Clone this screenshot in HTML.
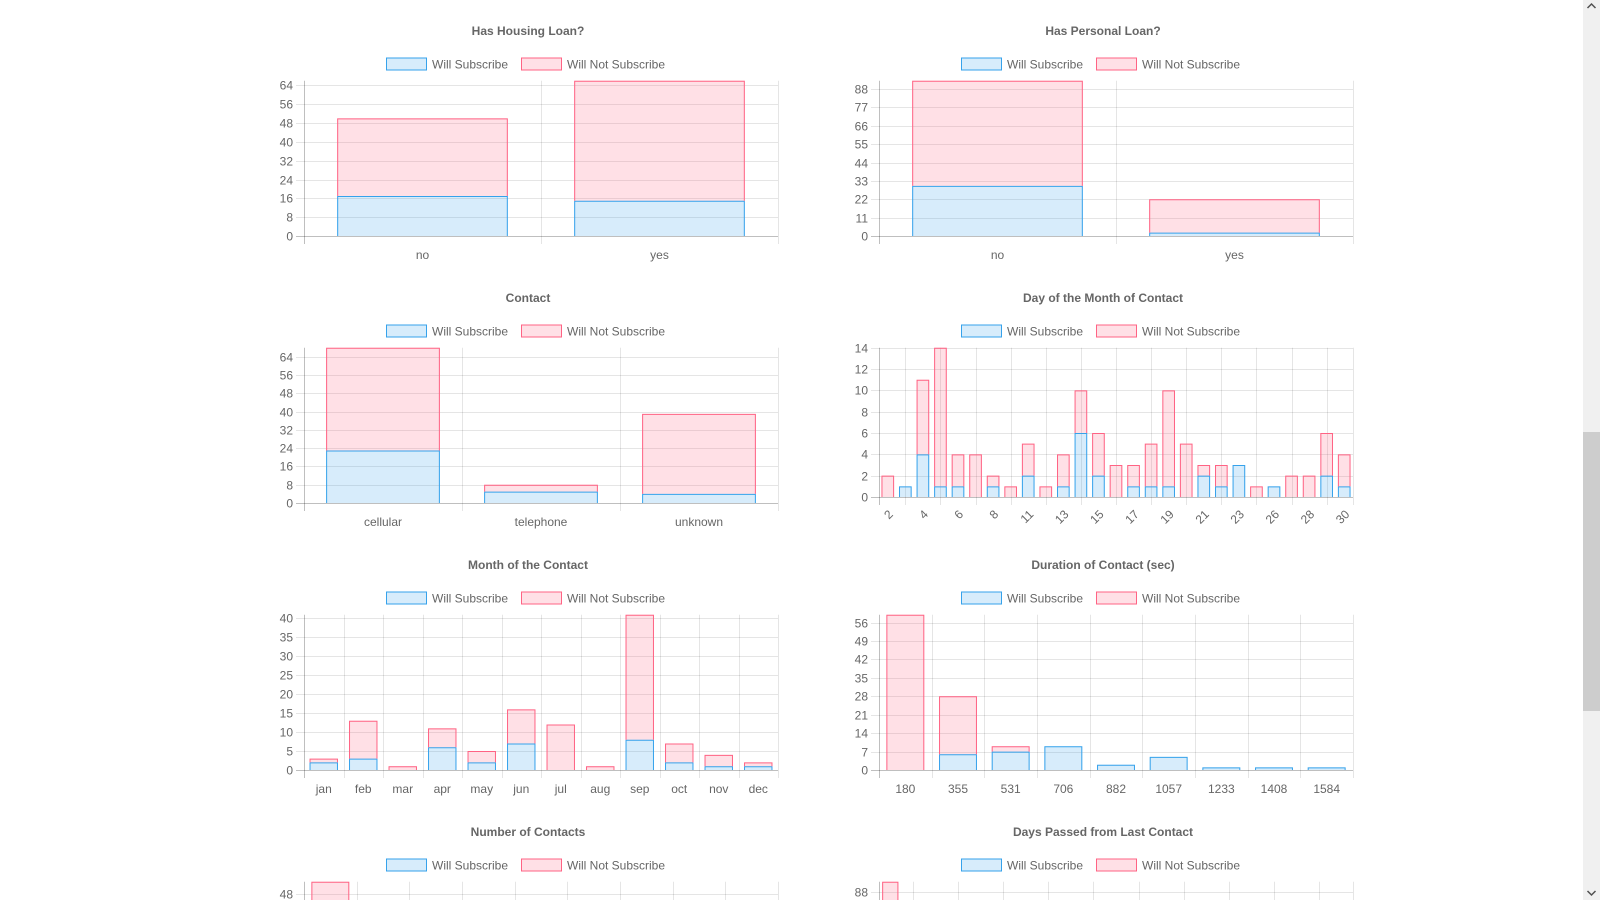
<!DOCTYPE html>
<html><head><meta charset="utf-8"><title>Bank marketing charts</title>
<style>
html,body{margin:0;padding:0;width:1600px;height:900px;overflow:hidden;background:#fff;}
svg{display:block;font-family:"Liberation Sans",Arial,sans-serif;overflow:hidden;}
</style></head>
<body>
<svg id="svgroot" width="1600" height="900" viewBox="0 0 1600 900" xmlns="http://www.w3.org/2000/svg">
  <defs><clipPath id="clipview"><rect x="0" y="0" width="1600" height="900"/></clipPath></defs>
  <g id="root" clip-path="url(#clipview)"></g>
  <g>
    <rect x="1583" y="0" width="17" height="900" fill="#f0f0f0"/>
    <rect x="1583" y="432" width="17" height="279" fill="#cdcdcd"/>
    <path d="M1587.5 8 L1591.5 4 L1595.5 8" fill="none" stroke="#505050" stroke-width="1.5"/>
    <path d="M1587.5 891 L1591.5 895 L1595.5 891" fill="none" stroke="#505050" stroke-width="1.5"/>
  </g>
</svg>
<script>
// ---- data ----
const housingCats = ["no","yes"];
const housingSub = [17,15];
const housingNot = [33,51];
const housingTicks = [0,8,16,24,32,40,48,56,64];

const personalCats = ["no","yes"];
const personalSub = [30,2];
const personalNot = [63,20];
const personalTicks = [0,11,22,33,44,55,66,77,88];

const contactCats = ["cellular","telephone","unknown"];
const contactSub = [23,5,4];
const contactNot = [45,3,35];
const contactTicks = [0,8,16,24,32,40,48,56,64];

const dayCats = [2,3,4,5,6,7,8,9,11,12,13,14,15,16,17,18,19,20,21,22,23,24,26,27,28,29,30];
const daySub = [0,1,4,1,1,0,1,0,2,0,1,6,2,0,1,1,1,0,2,1,3,0,1,0,0,2,1];
const dayNot = [2,0,7,13,3,4,1,1,3,1,3,4,4,3,2,4,9,5,1,2,0,1,0,2,2,4,3];
const dayTicks = [0,2,4,6,8,10,12,14];

const monthCats = ["jan","feb","mar","apr","may","jun","jul","aug","sep","oct","nov","dec"];
const monthSub = [2,3,0,6,2,7,0,0,8,2,1,1];
const monthNot = [1,10,1,5,3,9,12,1,33,5,3,1];
const monthTicks = [0,5,10,15,20,25,30,35,40];

const durCats = [180,355,531,706,882,1057,1233,1408,1584];
const durSub = [0,6,7,9,2,5,1,1,1];
const durNot = [59,22,2,0,0,0,0,0,0];
const durTicks = [0,7,14,21,28,35,42,49,56];

const ncCats = [1,2,3,4,5,6,7,8,9];
const ncSub = [4,5,3,2,1,1,0,0,0];
const ncNot = [48,30,14,6,4,2,2,1,1];
const ncTicks = [0,8,16,24,32,40,48];

const pdCats = [-1,40,81,122,163,204,245,286,327,368,409,450,491,532,573,614,655,696,737,778,819];
const pdSub = [20,1,2,1,1,0,1,0,1,0,0,1,0,0,0,0,0,0,0,0,1];
const pdNot = [74,1,1,1,0,1,0,1,0,0,1,0,0,0,0,0,0,0,0,0,0];
const pdTicks = [0,11,22,33,44,55,66,77,88];

// ---- drawing ----
const NS = "http://www.w3.org/2000/svg";
const root = document.getElementById("root");
const BLUE = "rgb(54,162,235)", BLUEF = "rgba(54,162,235,0.2)";
const PINK = "rgb(255,99,132)", PINKF = "rgba(255,99,132,0.2)";
function mk(tag, attrs, parent){
  const e = document.createElementNS(NS, tag);
  for (const k in attrs) e.setAttribute(k, attrs[k]);
  parent.appendChild(e);
  return e;
}
function slug(s){return s.toLowerCase().replace(/[^a-z0-9]+/g,"-").replace(/^-|-$/g,"");}

function drawChart(title, col, row, cats, sub, not, ticks, rotate, gridEvery){
  const off = col * 575;
  const axisX = 304 + off, right = 778 + off;
  const top = 80.7 + 267*row;
  const bottom = (rotate ? 230 : 236) + 267*row;
  const g = mk("g", {}, root);
  
  
  const t = mk("text", {x: 528+off, y: 35+267*row, "text-anchor":"middle", "font-size":"12", "font-weight":"bold", fill:"#666"}, g);
  t.textContent = title;
  
  
  const ly = 57.5 + 267*row;
  const lg = mk("g", {}, g);
  
  
  const e1 = mk("g", {}, lg);
  
  
  mk("rect", {x:386.5+off, y:ly+0.5, width:40, height:12, fill:BLUEF, stroke:BLUE, "stroke-width":1}, e1);
  const lt1 = mk("text", {x:432+off, y:ly+11, "font-size":"12", fill:"#666"}, e1);
  lt1.textContent = "Will Subscribe";
  const e2 = mk("g", {}, lg);
  
  
  mk("rect", {x:521.5+off, y:ly+0.5, width:40, height:12, fill:PINKF, stroke:PINK, "stroke-width":1}, e2);
  const lt2 = mk("text", {x:567+off, y:ly+11, "font-size":"12", fill:"#666"}, e2);
  lt2.textContent = "Will Not Subscribe";
  let maxV = 0;
  for (let i=0;i<cats.length;i++) maxV = Math.max(maxV, sub[i]+not[i]);
  maxV = Math.max(maxV, ticks[ticks.length-1]);
  const yS = v => bottom - (v/maxV)*(bottom-top);
  const n = cats.length, w = (right-axisX)/n;
  const xS = i => axisX + w*i;
  const yg = mk("g", {}, g);
  
  
  ticks.forEach(v => {
    const y = Math.round(yS(v)) + 0.5;
    mk("line", {x1:axisX-8, x2:right, y1:y, y2:y, stroke: v===0 ? "rgba(0,0,0,0.25)" : "rgba(0,0,0,0.1)", "stroke-width":1}, yg);
    const tl = mk("text", {x:axisX-11, y:y+4, "text-anchor":"end", "font-size":"12", fill:"#666"}, yg);
    tl.textContent = v;
  });
  const xg = mk("g", {}, g);
  
  
  const lines = [];
  if (gridEvery === 1) { for (let i=0;i<=n;i++) lines.push(xS(i)); }
  else { lines.push(axisX); for (let k=1.5; k<n; k+=gridEvery) lines.push(axisX + k*w); lines.push(right); }
  lines.forEach((x, idx) => {
    const xx = Math.round(x)+0.5;
    mk("line", {x1:xx, x2:xx, y1:top, y2:bottom+8, stroke: idx===0 ? "rgba(0,0,0,0.25)" : "rgba(0,0,0,0.1)", "stroke-width":1}, xg);
  });
  cats.forEach((c, i) => {
    if (i % gridEvery !== 0) return;
    const cx = xS(i) + w/2;
    let tl;
    if (rotate) {
      tl = mk("text", {x:cx+6, y:bottom+18, "text-anchor":"end", "font-size":"12", fill:"#666", transform:`rotate(-45 ${cx+6} ${bottom+18})`}, xg);
    } else {
      tl = mk("text", {x:cx, y:bottom+23, "text-anchor":"middle", "font-size":"12", fill:"#666"}, xg);
    }
    tl.textContent = c;
  });
  const bw = w*0.72;
  cats.forEach((c, i) => {
    const x0 = xS(i) + (w-bw)/2;
    const y0 = yS(0), y1 = yS(sub[i]), y2 = yS(sub[i]+not[i]);
    if (sub[i] > 0) {
      const b = mk("rect", {x:x0, y:y1, width:bw, height:y0-y1, fill:BLUEF}, g);
      
      
      mk("path", {d:`M${x0+0.5} ${y0} L${x0+0.5} ${y1+0.5} L${x0+bw-0.5} ${y1+0.5} L${x0+bw-0.5} ${y0}`, fill:"none", stroke:BLUE, "stroke-width":1}, g);
    }
    if (not[i] > 0) {
      const b = mk("rect", {x:x0, y:y2, width:bw, height:y1-y2, fill:PINKF}, g);
      
      
      mk("path", {d:`M${x0+0.5} ${y1} L${x0+0.5} ${y2+0.5} L${x0+bw-0.5} ${y2+0.5} L${x0+bw-0.5} ${y1}`, fill:"none", stroke:PINK, "stroke-width":1}, g);
    }
  });
}

drawChart("Has Housing Loan?", 0, 0, housingCats, housingSub, housingNot, housingTicks, false, 1);
drawChart("Has Personal Loan?", 1, 0, personalCats, personalSub, personalNot, personalTicks, false, 1);
drawChart("Contact", 0, 1, contactCats, contactSub, contactNot, contactTicks, false, 1);
drawChart("Day of the Month of Contact", 1, 1, dayCats, daySub, dayNot, dayTicks, true, 2);
drawChart("Month of the Contact", 0, 2, monthCats, monthSub, monthNot, monthTicks, false, 1);
drawChart("Duration of Contact (sec)", 1, 2, durCats, durSub, durNot, durTicks, false, 1);
drawChart("Number of Contacts", 0, 3, ncCats, ncSub, ncNot, ncTicks, false, 1);
drawChart("Days Passed from Last Contact", 1, 3, pdCats, pdSub, pdNot, pdTicks, false, 2);
</script>
</body></html>
